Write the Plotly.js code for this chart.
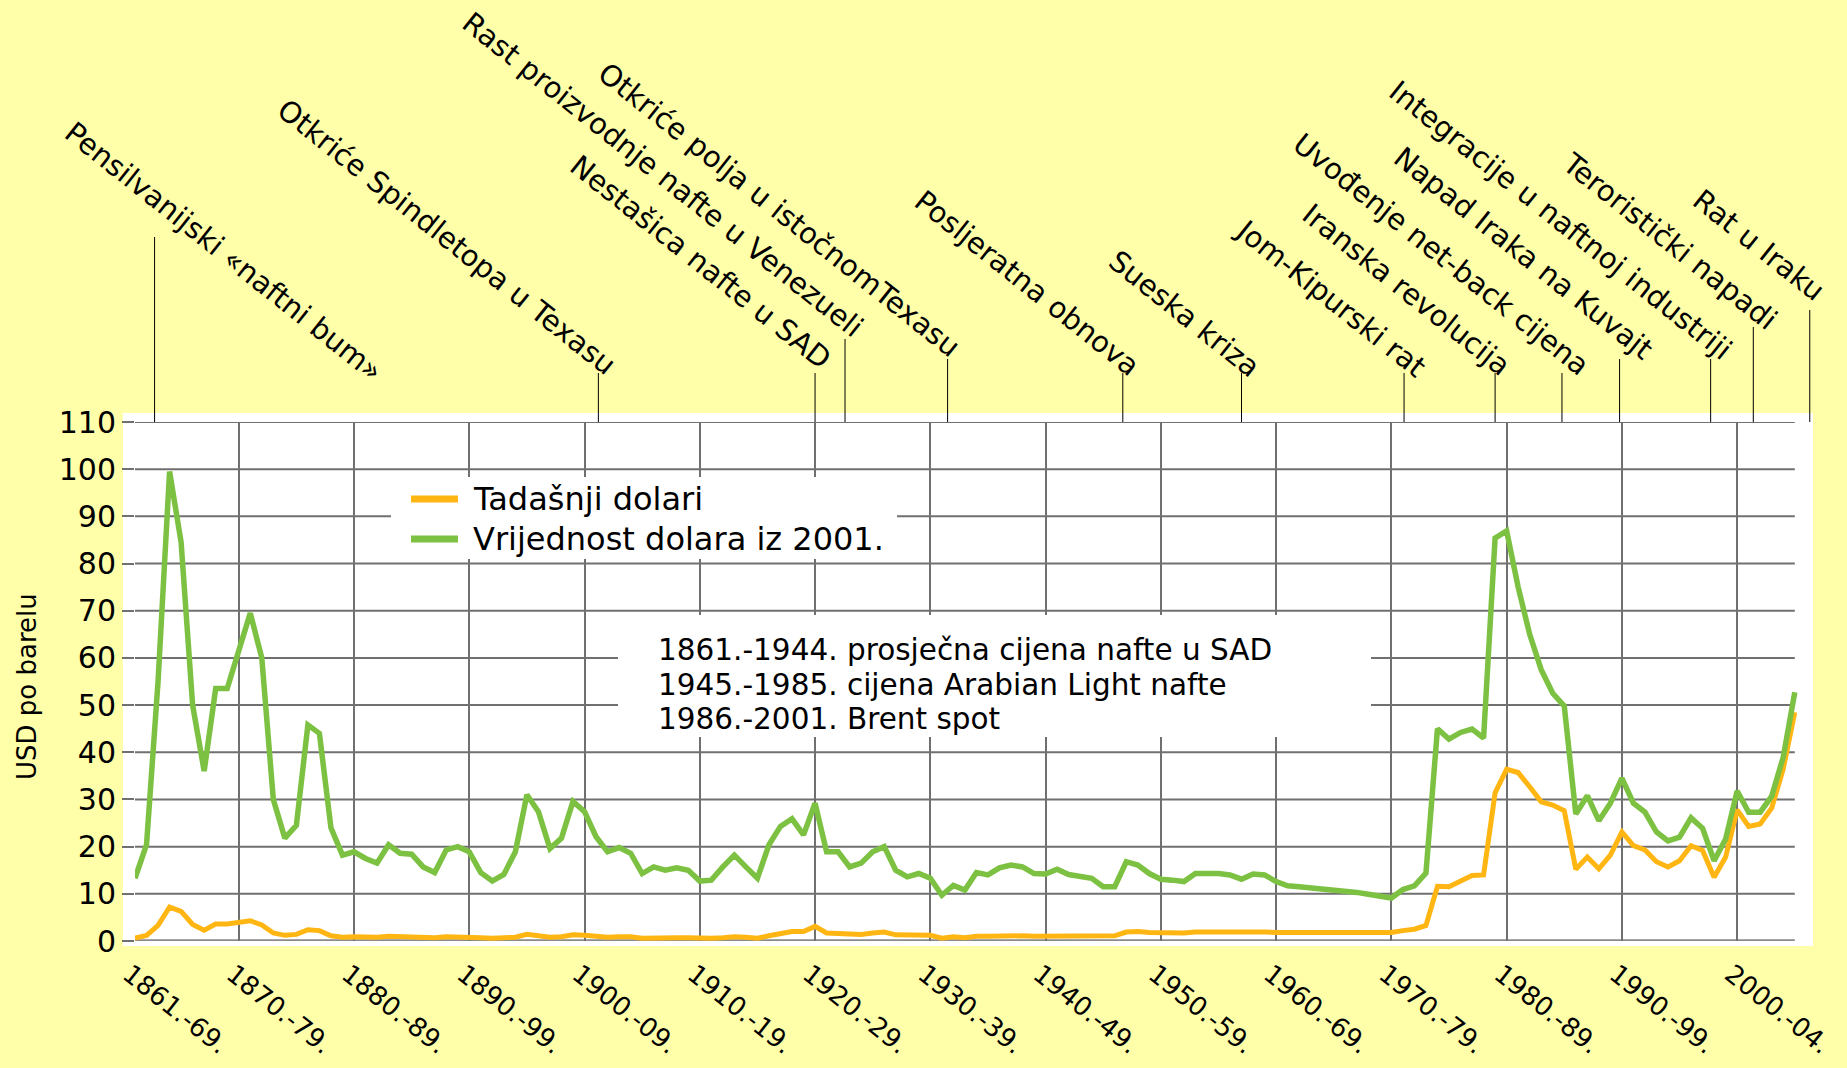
<!DOCTYPE html>
<html>
<head>
<meta charset="utf-8">
<script src="https://cdn.plot.ly/plotly-3.0.1.min.js"></script>
<style>
  html, body { margin: 0; padding: 0; background: #ffffaa; }
  #chart { width: 1847px; height: 1068px; }
</style>
</head>
<body>
<div id="chart"></div>
<script>
// ---------------- DATA ----------------
const years = [
  1861,1862,1863,1864,1865,1866,1867,1868,1869,
  1870,1871,1872,1873,1874,1875,1876,1877,1878,1879,
  1880,1881,1882,1883,1884,1885,1886,1887,1888,1889,
  1890,1891,1892,1893,1894,1895,1896,1897,1898,1899,
  1900,1901,1902,1903,1904,1905,1906,1907,1908,1909,
  1910,1911,1912,1913,1914,1915,1916,1917,1918,1919,
  1920,1921,1922,1923,1924,1925,1926,1927,1928,1929,
  1930,1931,1932,1933,1934,1935,1936,1937,1938,1939,
  1940,1941,1942,1943,1944,1945,1946,1947,1948,1949,
  1950,1951,1952,1953,1954,1955,1956,1957,1958,1959,
  1960,1961,1962,1963,1964,1965,1966,1967,1968,1969,
  1970,1971,1972,1973,1974,1975,1976,1977,1978,1979,
  1980,1981,1982,1983,1984,1985,1986,1987,1988,1989,
  1990,1991,1992,1993,1994,1995,1996,1997,1998,1999,
  2000,2001,2002,2003,2004,2005
];

// Tadašnji dolari (money of the day)
const nominalUSD = [
  0.6,1.2,3.3,7.2,6.3,3.5,2.3,3.6,3.6,
  3.9,4.3,3.4,1.7,1.2,1.4,2.4,2.2,1.1,0.8,
  0.9,0.8,0.8,1.0,0.9,0.9,0.7,0.7,0.9,0.9,
  0.9,0.7,0.6,0.6,0.8,1.4,1.2,0.8,0.9,1.3,
  1.2,1.0,0.8,0.9,0.9,0.6,0.7,0.7,0.7,0.7,
  0.6,0.6,0.7,0.9,0.8,0.6,1.1,1.6,2.0,2.0,
  3.1,1.7,1.6,1.3,1.4,1.7,1.9,1.3,1.2,1.3,
  1.2,0.6,0.9,0.7,1.0,1.0,1.1,1.2,1.1,1.0,
  1.0,1.1,1.2,1.2,1.2,1.1,1.1,1.9,2.0,1.8,
  1.7,1.7,1.7,1.9,1.9,1.9,1.9,1.9,2.1,1.9,
  1.8,1.8,1.8,1.8,1.8,1.8,1.8,1.8,1.8,1.8,
  1.8,2.2,2.5,3.3,11.6,11.5,12.8,13.9,14.0,31.4,
  36.4,35.7,32.7,29.5,28.8,27.6,15.2,17.8,15.3,18.2,
  23.1,20.2,19.3,16.8,15.7,17.0,20.2,19.2,13.5,17.8,
  27.8,24.3,24.8,28.2,36.5,48.5
];

// Vrijednost dolara iz 2001.
const realUSD2001 = [
  13.3,20.4,55.0,99.5,84.5,50.0,36.0,53.5,53.5,
  61.5,69.5,60.0,30.0,21.8,24.5,45.8,44.0,24.0,18.2,
  18.9,17.5,16.5,20.4,18.6,18.4,15.7,14.5,19.3,20.0,
  18.9,14.5,12.7,14.1,18.9,31.0,27.4,19.6,21.8,29.6,
  27.4,22.1,18.9,19.8,18.6,14.3,15.7,15.0,15.5,15.0,
  12.7,12.9,15.7,18.2,15.7,13.3,20.4,24.3,25.9,22.5,
  29.2,18.9,18.9,15.7,16.5,18.9,20.0,15.0,13.6,14.3,
  13.3,9.7,11.8,10.8,14.5,14.0,15.5,16.1,15.7,14.3,
  14.2,15.2,14.1,13.6,13.3,11.5,11.5,16.8,16.1,14.3,
  13.1,12.9,12.6,14.3,14.3,14.3,14.0,13.1,14.2,14.0,
  12.6,11.7,11.5,11.3,11.1,10.9,10.6,10.3,9.9,9.4,
  9.1,10.9,11.7,14.4,45.0,42.8,44.2,44.9,43.0,85.4,
  86.9,75.0,65.0,57.5,52.5,49.8,26.9,30.8,25.5,29.2,
  34.5,29.2,27.3,23.1,21.2,22.0,26.1,23.9,17.0,21.6,
  31.8,27.3,27.3,30.7,39.0,52.7
];

const seriesNames = ['Tadašnji dolari', 'Vrijednost dolara iz 2001.'];

const xTickVals = [1861,1870,1880,1890,1900,1910,1920,1930,1940,1950,1960,1970,1980,1990,2000];
const xTickText = ['1861.-69.','1870.-79.','1880.-89.','1890.-99.','1900.-09.','1910.-19.',
                   '1920.-29.','1930.-39.','1940.-49.','1950.-59.','1960.-69.','1970.-79.',
                   '1980.-89.','1990.-99.','2000.-04.'];
const yTickVals = [0,10,20,30,40,50,60,70,80,90,100,110];
const yAxisTitle = 'USD po barelu';

const eventLabels = [
  'Pensilvanijski «naftni bum»',
  'Otkriće Spindletopa u Texasu',
  'Nestašica nafte u SAD',
  'Rast proizvodnje nafte u Venezueli',
  'Otkriće polja u istočnomTexasu',
  'Posljeratna obnova',
  'Sueska kriza',
  'Jom-Kipurski rat',
  'Iranska revolucija',
  'Uvođenje net-back cijena',
  'Napad Iraka na Kuvajt',
  'Integracije u naftnoj industriji',
  'Teroristički napadi',
  'Rat u Iraku'
];
const eventYears = [1862.7, 1901.2, 1920.0, 1922.6, 1931.5, 1946.7, 1957.0,
                    1971.1, 1979.0, 1984.8, 1989.8, 1997.7, 2001.4, 2006.3];

const noteLines = [
  '1861.-1944. prosječna cijena nafte u SAD',
  '1945.-1985. cijena Arabian Light nafte',
  '1986.-2001. Brent spot'
];

// ---------------- LAYOUT / STYLE ----------------
const W = 1847, H = 1068;
const M = { l: 135, r: 34, t: 422, b: 127 };
const PW = W - M.l - M.r, PH = H - M.t - M.b;
const X = px => (px - M.l) / PW;          // pixel -> paper x
const Y = py => (H - M.b - py) / PH;      // pixel -> paper y

const FONT = 'DejaVu Sans, Liberation Sans, Arial, sans-serif';
const GRID = '#707070';
const ORANGE = '#ffb612';
const GREEN = '#7cc142';
const X_END = 2006.58;       // right edge of the white plot area
const LAST_YEAR = years[years.length - 1];

// per-event label placement (pixel tops of the leader lines, label offsets)
const eventLineTopPx = [237, 373, 373, 339, 359, 373, 373, 373, 373, 373, 359, 359, 327, 310];
const eventShift = [[238,-154],[27,-11],[25,-6],[28,-8],[22,-8],[26,-12],[28,-14],
                    [31,-14],[25,-12],[36,-12],[42,-10],[30,-10],[33,-12],[24,0]];

const traces = [
  { x: years, y: nominalUSD, name: seriesNames[0], type: 'scatter', mode: 'lines',
    line: { color: ORANGE, width: 5, shape: 'linear' }, showlegend: false, hoverinfo: 'x+y' },
  { x: years, y: realUSD2001, name: seriesNames[1], type: 'scatter', mode: 'lines',
    line: { color: GREEN, width: 5.5, shape: 'linear' }, showlegend: false, hoverinfo: 'x+y' }
];

const shapes = [];
// white background of the chart block (slightly larger than the grid)
shapes.push({ type: 'rect', xref: 'paper', yref: 'paper', layer: 'below',
  x0: X(123), x1: 1, y0: Y(946), y1: Y(413), fillcolor: '#ffffff', line: { width: 0 } });
// horizontal grid lines, ending at the last data year
yTickVals.forEach(v => {
  shapes.push({ type: 'line', xref: 'x', yref: 'y', layer: 'below',
    x0: years[0], x1: LAST_YEAR, y0: v, y1: v,
    line: { color: v === 0 ? '#8a8a8a' : GRID, width: v === 0 ? 3.5 : 2 } });
});
// event leader lines
eventYears.forEach((yr, i) => {
  shapes.push({ type: 'line', xref: 'x', yref: 'paper', layer: 'above',
    x0: yr, x1: yr, y0: 1, y1: Y(eventLineTopPx[i]), line: { color: '#000000', width: 1 } });
});
// legend box + symbols
shapes.push({ type: 'rect', xref: 'paper', yref: 'paper', layer: 'above',
  x0: X(391), x1: X(897), y0: Y(559), y1: Y(477), fillcolor: '#ffffff', line: { width: 0 } });
shapes.push({ type: 'line', xref: 'paper', yref: 'paper', layer: 'above',
  x0: X(411), x1: X(458), y0: Y(499), y1: Y(499), line: { color: ORANGE, width: 7 } });
shapes.push({ type: 'line', xref: 'paper', yref: 'paper', layer: 'above',
  x0: X(411), x1: X(458), y0: Y(539), y1: Y(539), line: { color: GREEN, width: 7 } });
// note box
shapes.push({ type: 'rect', xref: 'paper', yref: 'paper', layer: 'above',
  x0: X(618), x1: X(1371), y0: Y(737), y1: Y(615), fillcolor: '#ffffff', line: { width: 0 } });

const annotations = [];
eventLabels.forEach((txt, i) => {
  annotations.push({ text: txt, xref: 'x', yref: 'paper', x: eventYears[i], y: Y(eventLineTopPx[i]),
    xanchor: 'right', yanchor: 'bottom', xshift: eventShift[i][0], yshift: eventShift[i][1],
    textangle: 38.5, showarrow: false, font: { family: FONT, size: 29, color: '#000' } });
});
[499, 539].forEach((py, i) => {
  annotations.push({ text: seriesNames[i], xref: 'paper', yref: 'paper', x: X(471), y: Y(py),
    xanchor: 'left', yanchor: 'middle', showarrow: false, font: { family: FONT, size: 32, color: '#000' } });
});
[650, 684.5, 719].forEach((py, i) => {
  annotations.push({ text: noteLines[i], xref: 'paper', yref: 'paper', x: X(657), y: Y(py),
    xanchor: 'left', yanchor: 'middle', showarrow: false, borderpad: 0,
    font: { family: FONT, size: 29.5, color: '#000' } });
});
annotations.push({ text: yAxisTitle, xref: 'paper', yref: 'paper', x: X(27), y: Y(686),
  xanchor: 'center', yanchor: 'middle', textangle: -90, showarrow: false,
  font: { family: FONT, size: 26, color: '#000' } });

const layout = {
  width: W, height: H,
  margin: M,
  paper_bgcolor: '#ffffaa',
  plot_bgcolor: '#ffffff',
  showlegend: false,
  font: { family: FONT, color: '#000' },
  xaxis: {
    range: [years[0], X_END], type: 'linear',
    tickmode: 'array', tickvals: xTickVals, ticktext: xTickText,
    tickangle: 38.5, ticks: '', showgrid: true, gridcolor: GRID, gridwidth: 2,
    zeroline: false, showline: false, ticklabelstandoff: 12, ticklabelshift: -6,
    ticklabeloverflow: 'allow',
    tickfont: { family: FONT, size: 26, color: '#000' }
  },
  yaxis: {
    range: [0, 110], tickmode: 'array', tickvals: yTickVals,
    ticks: 'outside', ticklen: 12, tickwidth: 2, tickcolor: GRID,
    showgrid: false, zeroline: false, showline: false, ticklabelstandoff: 0,
    tickfont: { family: FONT, size: 30, color: '#000' }
  },
  shapes: shapes,
  annotations: annotations
};

Plotly.newPlot('chart', traces, layout, { displayModeBar: false, responsive: false });
</script>
</body>
</html>
